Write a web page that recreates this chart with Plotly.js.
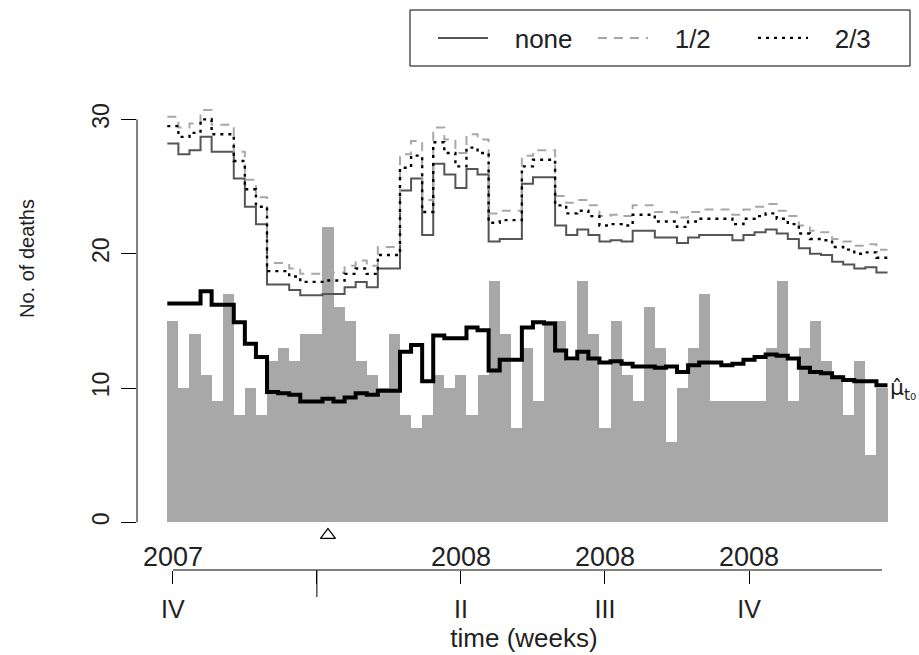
<!DOCTYPE html>
<html>
<head>
<meta charset="utf-8">
<script src="https://cdn.plot.ly/plotly-3.0.1.min.js"></script>
<style>html,body{margin:0;padding:0;background:#fff;}#chart{width:919px;height:655px;}</style>
</head>
<body>
<div id="chart"></div>
<script>
// weekly counts, 2007 week 40 .. 2008 week 52
const counts = [15,10,14,11,9,17,8,10,8,12,13,12,14,14,22,16,15,12,11,10,14,8,7,8,11,10,11,8,11,18,14,7,13,9,15,15,12,18,14,7,15,11,9,16,13,6,10,13,17,9,9,9,9,9,13,18,9,13,15,12,11,8,12,5,10];
const muHat = [16.3,16.3,16.3,17.2,16.2,16.2,14.9,13.3,12.3,9.7,9.6,9.5,9.0,9.0,9.2,9.0,9.3,9.6,9.5,9.8,9.8,12.7,13.2,10.5,13.9,13.7,13.7,14.5,14.3,11.3,12.1,12.1,14.5,14.9,14.8,12.8,12.2,12.7,12.2,11.9,12.0,11.8,11.6,11.6,11.5,11.6,11.2,11.7,11.9,11.9,11.7,11.8,12.1,12.3,12.5,12.4,12.2,11.5,11.2,11.1,10.8,10.6,10.5,10.5,10.2];
const thrNone = [28.2,27.4,27.7,28.7,27.6,27.6,25.6,23.5,22.2,17.7,17.7,17.3,16.9,16.9,17.0,17.0,17.5,17.9,17.5,18.9,18.9,24.7,25.6,21.4,26.7,25.9,24.9,26.3,25.9,20.9,21.1,21.1,25.2,25.7,25.7,22.1,21.4,21.8,21.4,20.9,21.0,20.9,21.7,21.7,21.2,21.2,20.8,21.2,21.4,21.4,21.4,21.0,21.4,21.6,21.8,21.5,21.1,20.4,20.0,19.9,19.4,19.2,18.9,19.0,18.6];
const thrHalf = [30.2,29.4,29.7,30.7,29.6,29.6,27.6,25.5,24.2,19.3,19.3,18.9,18.5,18.5,18.6,18.6,19.1,19.5,19.1,20.5,20.5,27.4,28.4,24.0,29.4,28.5,27.5,28.9,28.5,23.0,23.2,23.2,27.3,27.7,27.7,24.3,23.8,24.0,23.6,22.8,22.9,22.8,23.6,23.6,23.1,23.1,22.7,23.1,23.3,23.3,23.3,22.9,23.3,23.5,23.7,23.2,22.8,22.1,21.7,21.6,21.1,20.9,20.6,20.7,20.3];
const thrTwoThirds = [29.5,28.7,29.0,30.0,28.9,28.9,26.9,24.8,23.5,18.7,18.7,18.3,17.9,17.9,18.0,18.0,18.5,18.9,18.5,19.9,19.9,26.4,27.3,23.1,28.3,27.5,26.5,27.9,27.5,22.3,22.5,22.5,26.5,27.0,27.0,23.6,23.0,23.2,22.8,22.1,22.2,22.1,22.9,22.9,22.4,22.4,22.0,22.4,22.6,22.6,22.6,22.2,22.6,22.8,23.0,22.6,22.2,21.5,21.1,21.0,20.5,20.3,20.0,20.1,19.7];
const alarmWeeks = [15];
const tickWeeks = [1,14,27,40,53];
const tickQuarters = ["IV","","II","III","IV"];
const tickYears = ["2007","","2008","2008","2008"];
const yearBoundaryWeeks = [14];
const yTicks = [0,10,20,30];
const seriesNames = ["none","1/2","2/3"];

const weeks = counts.map((_, i) => i + 1);
const n = weeks.length;
const stepX = weeks.map(w => w - 0.5).concat([weeks[n-1] + 0.5]);
const stepY = arr => arr.concat([arr[n-1]]);
const pad = s => "\u00a0\u00a0\u00a0" + s;

const FONT = "Liberation Sans, Arial, Helvetica, sans-serif";
const TXT = "#222";
const W = 919, H = 655, L = 137, R = 8, T = 100, B = 85;
const PW = W - L - R, PH = H - T - B;

const traces = [
  {type:"bar", x:weeks, y:counts, width:1, marker:{color:"#a8a8a8", line:{width:0}}, showlegend:false},
  {type:"scatter", mode:"lines", x:stepX, y:stepY(thrNone), line:{shape:"hv", color:"#555", width:2}, name:pad(seriesNames[0])},
  {type:"scatter", mode:"lines", x:stepX, y:stepY(thrHalf), line:{shape:"hv", color:"#a8a8a8", width:2, dash:"9px,7px"}, name:pad(seriesNames[1])},
  {type:"scatter", mode:"lines", x:stepX, y:stepY(thrTwoThirds), line:{shape:"hv", color:"#000", width:2.4, dash:"3px,5px"}, name:pad(seriesNames[2])},
  {type:"scatter", mode:"lines", x:stepX, y:stepY(muHat), line:{shape:"hv", color:"#000", width:4}, showlegend:false},
  {type:"scatter", mode:"markers", x:alarmWeeks, y:alarmWeeks.map(() => -0.95), marker:{symbol:"triangle-up-open", size:13, color:"#000", line:{width:1.2, color:"#000"}}, showlegend:false}
];

const shapes = [
  {type:"line", xref:"paper", yref:"y", x0:0, x1:0, y0:yTicks[0], y1:yTicks[yTicks.length-1], line:{color:"#000", width:1}},
  {type:"line", xref:"x", yref:"paper", x0:tickWeeks[0], x1:weeks[n-1], y0:0, y1:0, line:{color:"#000", width:1}},
  // legend frame
  {type:"rect", xref:"paper", yref:"paper", x0:(410-L)/PW, x1:(910-L)/PW, y0:(H-B-66)/PH, y1:(H-B-10)/PH, line:{color:"#000", width:1}, fillcolor:"rgba(0,0,0,0)"}
].concat(yearBoundaryWeeks.map(w => ({type:"line", xref:"x", yref:"paper", x0:w, x1:w, y0:0, y1:-27/PH, line:{color:"#000", width:1}})));

const annotations = tickWeeks.map((w, i) => ({
  x:w, xref:"x", y:0, yref:"paper", yanchor:"bottom", xanchor:"center", yshift:-4,
  text:tickYears[i], showarrow:false, font:{family:FONT, size:27, color:TXT}
})).filter(a => a.text !== "").concat([
  {x:weeks[n-1] + 0.5, xref:"x", y:muHat[n-1], yref:"y", xanchor:"left", yanchor:"middle", xshift:0, yshift:-4,
   text:"μ\u0302<sub>t₀</sub>", showarrow:false, font:{family:"DejaVu Sans, sans-serif", size:22, color:TXT}},
  {x:(27 - L) / PW, xref:"paper", xanchor:"center", y:(H-B-259)/PH, yref:"paper", yanchor:"middle",
   text:"No. of deaths", textangle:-90, showarrow:false, font:{family:FONT, size:20, color:TXT}}
]);

const layout = {
  width:W, height:H,
  margin:{l:L, r:R, t:T, b:B},
  paper_bgcolor:"#fff", plot_bgcolor:"#fff",
  font:{family:FONT, color:TXT},
  bargap:0,
  xaxis:{range:[-2.235, 67.62], showgrid:false, zeroline:false, showline:false,
    tickmode:"array", tickvals:tickWeeks, ticktext:tickQuarters,
    ticks:"outside", ticklen:13, tickwidth:1, tickcolor:"#000",
    ticklabelstandoff:4, tickfont:{family:FONT, size:25, color:TXT},
    title:{text:"time (weeks)", font:{family:FONT, size:26, color:TXT}, standoff:0}},
  yaxis:{range:[-3.552, 31.445], showgrid:false, zeroline:false, showline:false,
    tickmode:"array", tickvals:yTicks, ticktext:yTicks.map(String),
    ticks:"outside", ticklen:15, tickwidth:1, tickcolor:"#000", tickangle:-90,
    ticklabelstandoff:3,
    tickfont:{family:FONT, size:23, color:TXT}},
  showlegend:true,
  legend:{orientation:"h", xref:"container", yref:"container",
    x:433/W, xanchor:"left", y:1 - 38/H, yanchor:"middle",
    borderwidth:0, bgcolor:"rgba(0,0,0,0)",
    font:{family:FONT, size:26, color:TXT}, itemwidth:50, entrywidth:95, traceorder:"normal"},
  shapes:shapes,
  annotations:annotations
};

Plotly.newPlot("chart", traces, layout, {displayModeBar:false, staticPlot:true});
</script>
</body>
</html>
